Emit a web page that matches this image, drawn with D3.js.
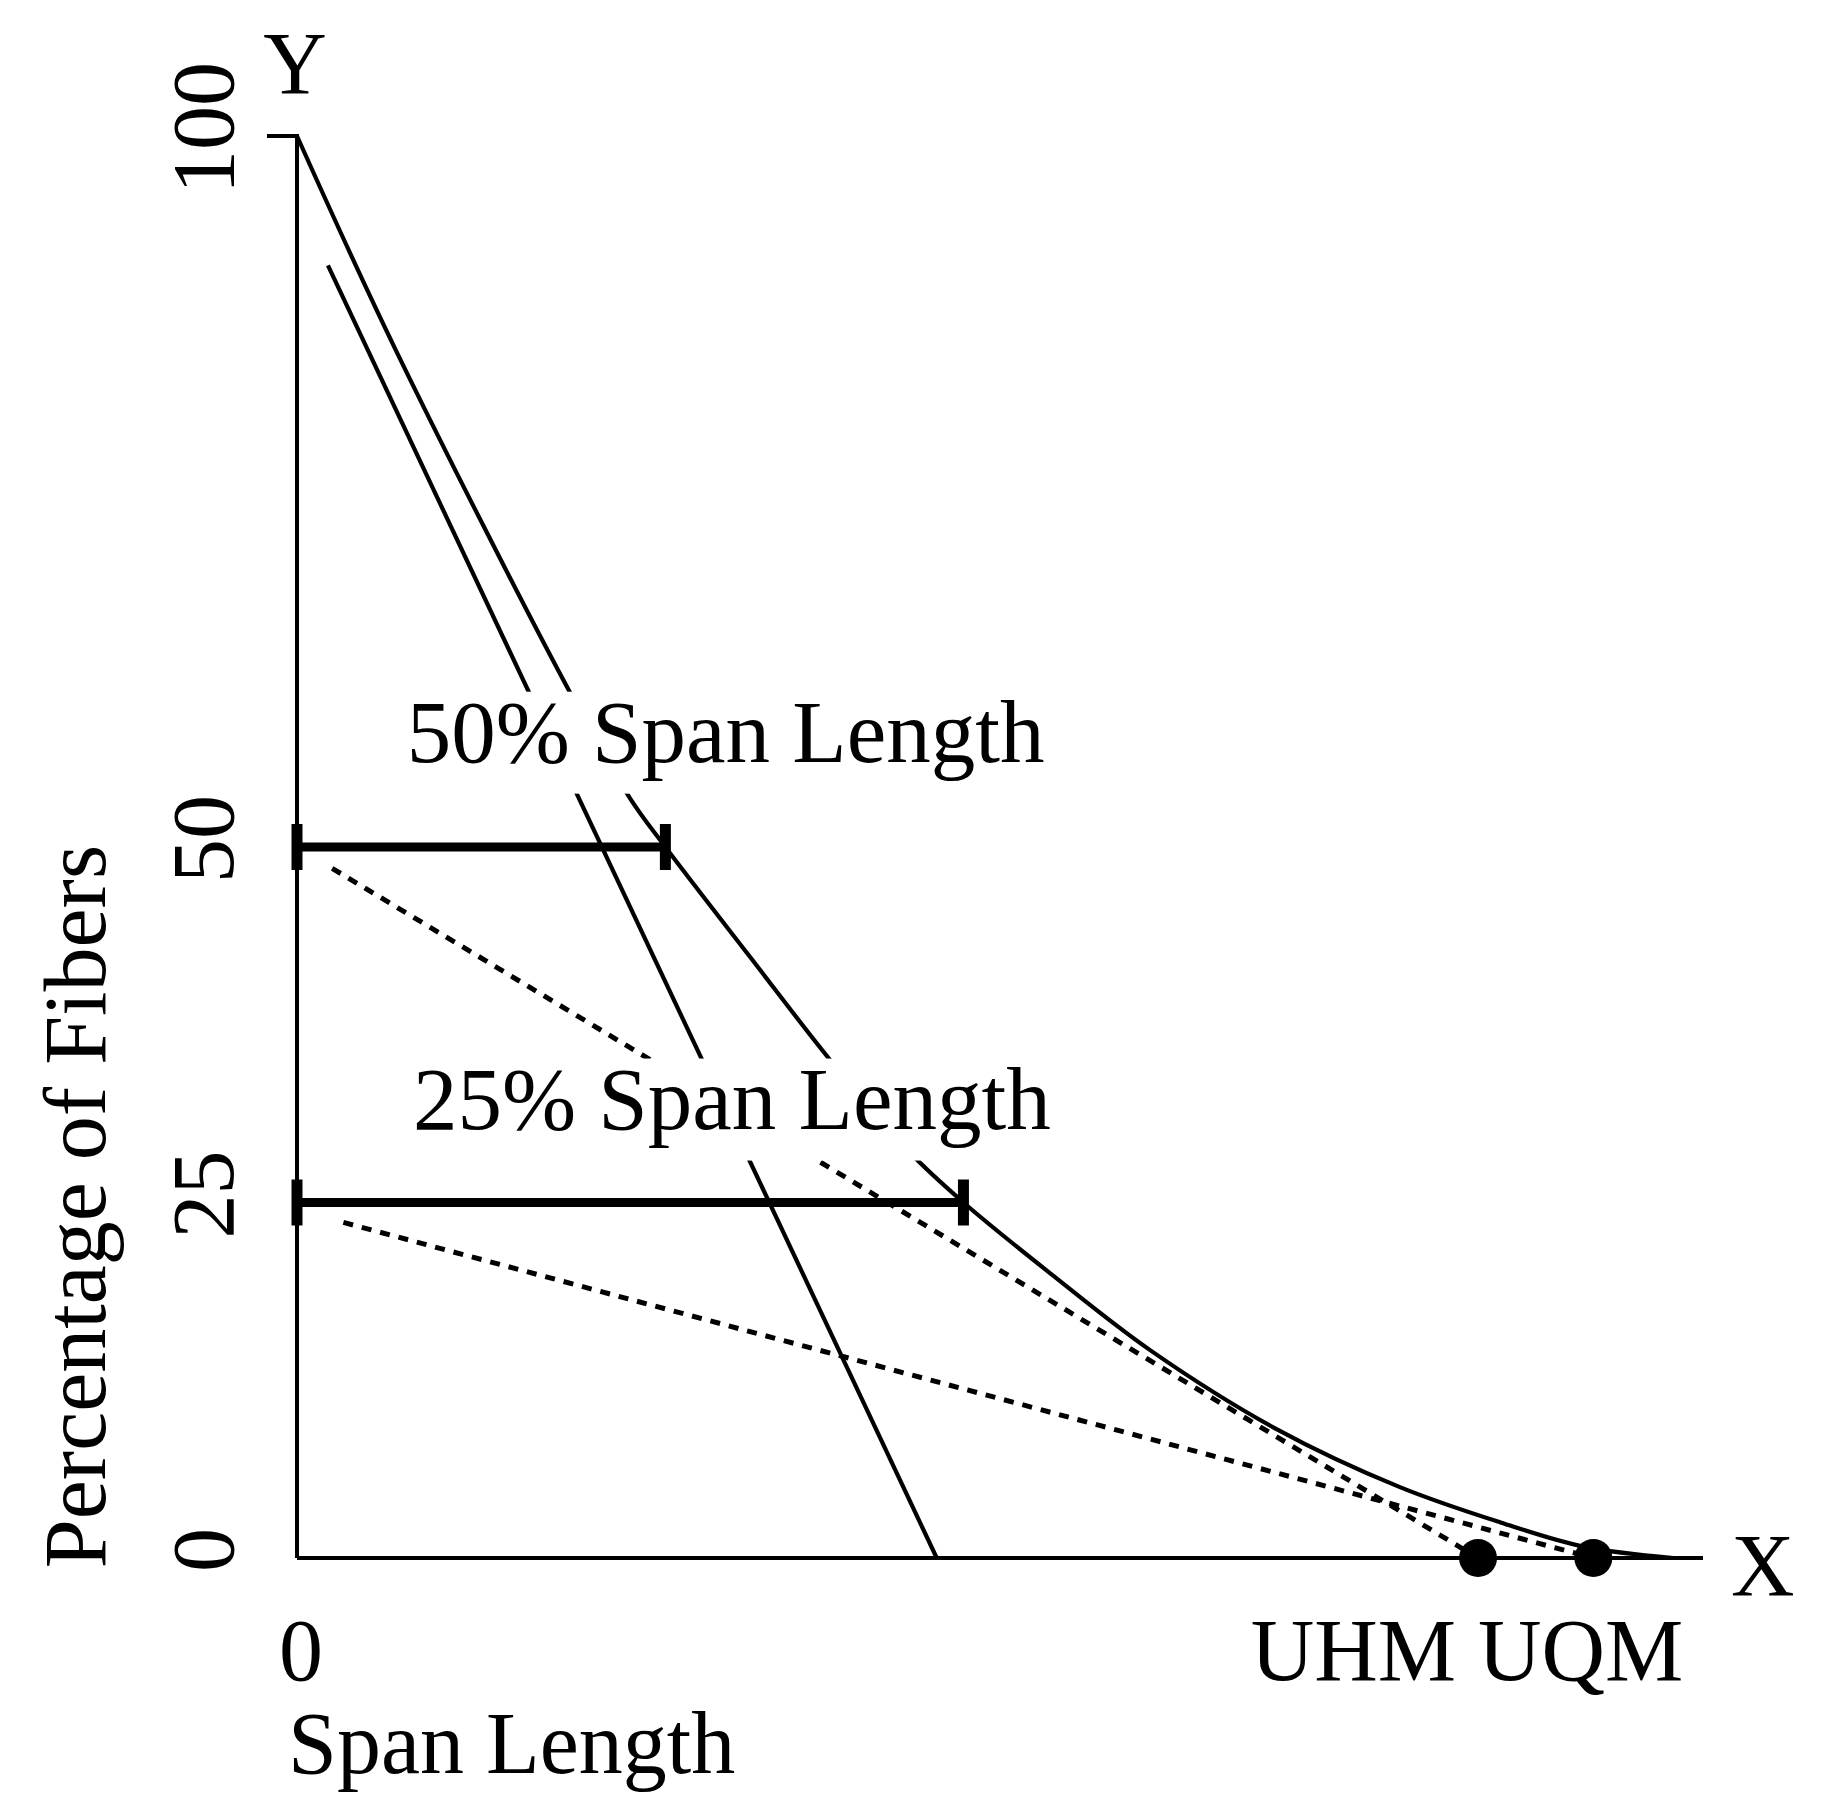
<!DOCTYPE html>
<html>
<head>
<meta charset="utf-8">
<script src="https://cdn.jsdelivr.net/npm/d3@7"></script>
<style>
  body { margin: 0; background: #fff; }
  text { font-family: "Liberation Serif", "Times New Roman", serif; fill: #000; }
</style>
</head>
<body>
<div id="chart"></div>
<script>
// fibrogram: span length (x, arbitrary units 0-100) vs percentage of fibers (y)
const curveX = [0, 7.0, 19.4, 23.7, 26.2, 32.2, 38.1, 43.5, 47.4, 53.6, 60.7, 69.6, 78.4, 85.6, 91.5, 97.9];
const curveY = [100, 85.0, 60.9, 53.4, 50, 42.3, 34.8, 28.6, 25, 20.0, 14.6, 9.1, 5.0, 2.5, 0.8, 0];

// straight line drawn alongside the upper part of the curve
const tangentX = [2.2, 45.5];
const tangentY = [90.9, 0];

// span length bars
const spanLevels = [50, 25];
const spanLengths = [26.2, 47.4];
const spanLabels = ["50% Span Length", "25% Span Length"];

// upper half mean / upper quartile mean
const meanNames = ["UHM", "UQM"];
const meanValues = [84.0, 92.2];
// dashed lines run from near the y axis down to each mean
const dashStartX = [2.5, 3.3];
const dashStartY = [48.5, 23.6];

const yTicks = [100, 50, 25, 0];

document.addEventListener('DOMContentLoaded', function () {
    const svg = d3.select("#chart")
        .append("svg")
        .attr("width", 1824)
        .attr("height", 1814);

    const x = d3.scaleLinear().domain([0, 100]).range([297, 1703]);
    const y = d3.scaleLinear().domain([0, 100]).range([1558, 136]);

    const fontSize = 88;

    // axes
    svg.append("line")
        .attr("x1", x(0)).attr("x2", x(0))
        .attr("y1", y(0)).attr("y2", y(100))
        .attr("stroke", "#000").attr("stroke-width", 4);
    svg.append("line")
        .attr("x1", x(0)).attr("x2", x(100))
        .attr("y1", y(0)).attr("y2", y(0))
        .attr("stroke", "#000").attr("stroke-width", 4);
    // small tick at the top
    svg.append("line")
        .attr("x1", x(0) - 30).attr("x2", x(0) + 2)
        .attr("y1", y(100)).attr("y2", y(100))
        .attr("stroke", "#000").attr("stroke-width", 4);

    // y tick labels, rotated
    svg.selectAll("text.ytick")
        .data(yTicks)
        .enter()
        .append("text")
        .attr("class", "ytick")
        .attr("transform", d => `translate(${x(0) - 64}, ${y(d) - 8}) rotate(-90)`)
        .attr("text-anchor", "middle")
        .style("font-size", fontSize + "px")
        .text(d => d);

    svg.append("text")
        .attr("x", x(0) - 2).attr("y", y(100) - 43)
        .attr("text-anchor", "middle")
        .style("font-size", fontSize + "px")
        .text("Y");
    svg.append("text")
        .attr("x", x(100) + 28).attr("y", y(0) + 37)
        .style("font-size", fontSize + "px")
        .text("X");
    svg.append("text")
        .attr("x", x(0) + 4).attr("y", y(0) + 122)
        .attr("text-anchor", "middle")
        .style("font-size", fontSize + "px")
        .text("0");
    svg.append("text")
        .attr("x", x(0) - 9).attr("y", y(0) + 215)
        .style("font-size", fontSize + "px")
        .text("Span Length");
    svg.append("text")
        .attr("transform", `translate(105, ${(y(0) + y(50)) / 2 + 4}) rotate(-90)`)
        .attr("text-anchor", "middle")
        .style("font-size", fontSize + "px")
        .text("Percentage of Fibers");

    // fibrogram curve
    const curvePts = curveX.map((d, i) => [d, curveY[i]]);
    const line = d3.line()
        .x(d => x(d[0]))
        .y(d => y(d[1]))
        .curve(d3.curveCatmullRom.alpha(0.5));
    svg.append("path")
        .datum(curvePts)
        .attr("d", line)
        .attr("fill", "none")
        .attr("stroke", "#000")
        .attr("stroke-width", 4.2);

    svg.append("line")
        .attr("x1", x(tangentX[0])).attr("y1", y(tangentY[0]))
        .attr("x2", x(tangentX[1])).attr("y2", y(tangentY[1]))
        .attr("stroke", "#000")
        .attr("stroke-width", 4.2);

    // dashed lines to UHM / UQM
    svg.selectAll("line.dash")
        .data(meanValues)
        .enter()
        .append("line")
        .attr("class", "dash")
        .attr("x1", (d, i) => x(dashStartX[i]))
        .attr("y1", (d, i) => y(dashStartY[i]))
        .attr("x2", d => x(d))
        .attr("y2", y(0))
        .attr("stroke", "#000")
        .attr("stroke-width", 5)
        .attr("stroke-dasharray", "10,9");

    // span labels with white boxes that break the lines behind them
    const labelX = [7.8, 8.25];
    const labelY = [56.0, 30.2];
    spanLabels.forEach((s, i) => {
        const g = svg.append("g");
        const bg = g.append("rect").attr("fill", "#fff");
        const t = g.append("text")
            .attr("x", x(labelX[i]))
            .attr("y", y(labelY[i]))
            .style("font-size", "89px")
            .text(s);
        const bb = t.node().getBBox();
        bg.attr("x", bb.x - 6)
            .attr("width", bb.width + 12)
            .attr("y", y(labelY[i]) - 70)
            .attr("height", 102);
    });

    // span length bars with end caps
    spanLevels.forEach((lvl, i) => {
        svg.append("line")
            .attr("x1", x(0)).attr("x2", x(spanLengths[i]))
            .attr("y1", y(lvl)).attr("y2", y(lvl))
            .attr("stroke", "#000").attr("stroke-width", 9);
        [0, spanLengths[i]].forEach(v => {
            svg.append("line")
                .attr("x1", x(v)).attr("x2", x(v))
                .attr("y1", y(lvl) - 23).attr("y2", y(lvl) + 23)
                .attr("stroke", "#000").attr("stroke-width", 11);
        });
    });

    // UHM / UQM points
    svg.selectAll("circle.mean")
        .data(meanValues)
        .enter()
        .append("circle")
        .attr("class", "mean")
        .attr("cx", d => x(d))
        .attr("cy", y(0))
        .attr("r", 19)
        .attr("fill", "#000");

    svg.append("text")
        .attr("x", x(meanValues[1]) + 90)
        .attr("y", y(0) + 122)
        .attr("text-anchor", "end")
        .style("font-size", fontSize + "px")
        .text(meanNames.join(" "));
});
</script>
</body>
</html>
